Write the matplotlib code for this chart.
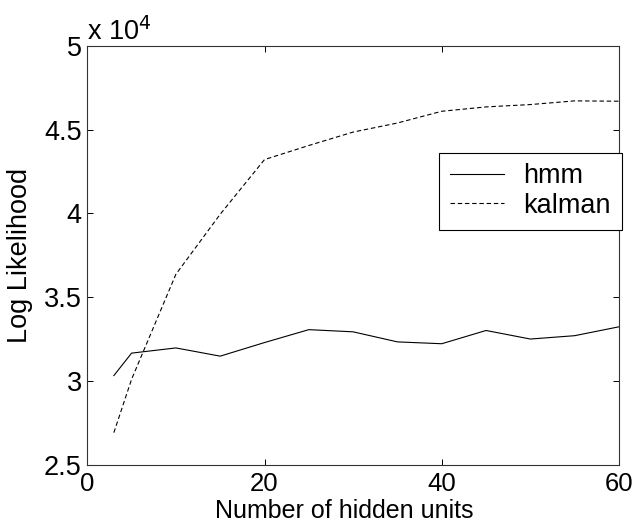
import matplotlib
matplotlib.use("Agg")
import matplotlib.pyplot as plt
from matplotlib.ticker import FuncFormatter

plt.rcParams['font.family'] = ['Liberation Sans', 'DejaVu Sans']

# число скрытых элементов
units = [3, 5, 10, 15, 20, 25, 30, 35, 40, 45, 50, 55, 60]
# логарифм правдоподобия
hmm = [30330, 31670, 31980, 31490, 32300, 33070, 32940, 32340, 32230, 33020, 32510, 32710, 33240]
kalman = [26930, 30110, 36370, 39950, 43210, 44050, 44850, 45390, 46090, 46350, 46490, 46710, 46690]

fs = 19.5

fig = plt.figure(figsize=(6.37, 5.24), dpi=100)
ax = fig.add_axes([0.137, 0.1126, 0.8347, 0.8002])

ax.plot(units, hmm, color='black', lw=0.8, label='hmm')
ax.plot(units, kalman, color='black', lw=0.8, dashes=(4, 2.5), label='kalman')

ax.set_xlim(0, 60)
ax.set_ylim(25000, 50000)
ax.set_xticks([0, 20, 40, 60])
ax.set_yticks([25000, 30000, 35000, 40000, 45000, 50000])
ax.yaxis.set_major_formatter(FuncFormatter(lambda v, p: '%g' % (v / 1e4)))

ax.tick_params(direction='in', length=4, width=0.7, top=True, right=True,
               labelsize=fs, colors='black')
ax.tick_params(axis='x', pad=5, labelsize=18.5)
ax.tick_params(axis='y', pad=4)
for s in ax.spines.values():
    s.set_linewidth(0.8)
    s.set_color('#333333')

ax.text(0.0, 1.0, 'x 10$^4$', transform=ax.transAxes, fontsize=fs,
        ha='left', va='bottom')

# подпись оси x прижата к нижнему краю, чтобы не обрезалась
fig.text(0.54, 0.002, 'Number of hidden units', fontsize=18, ha='center', va='bottom')
ax.set_ylabel('Log Likelihood', fontsize=fs)
ax.yaxis.set_label_coords(-0.102, 0.5)

leg = ax.legend(loc='upper right', bbox_to_anchor=(1.005, 0.745), fontsize=fs,
                frameon=True, fancybox=False, framealpha=1, edgecolor='black',
                borderaxespad=0, handlelength=2.0, handletextpad=0.7,
                labelspacing=0.12, borderpad=0.4)
leg.get_frame().set_linewidth(0.8)

fig.savefig('out.png', dpi=100)
